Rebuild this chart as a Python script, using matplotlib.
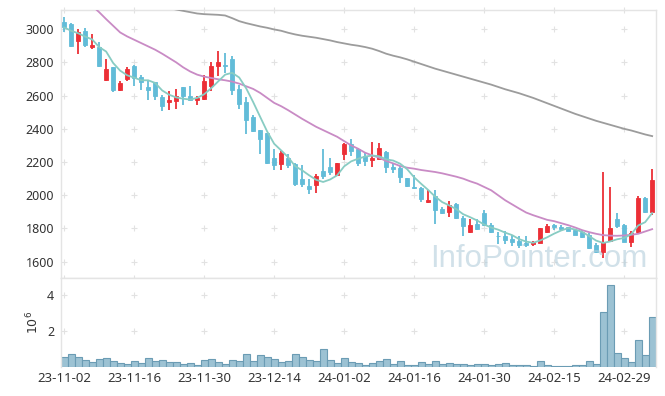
import numpy as np
import matplotlib.pyplot as plt

plt.rcParams['font.family'] = ['Noto Sans', 'DejaVu Sans']

# tick labels (every 10 trading days)
tick_labels = ['23-11-02', '23-11-16', '23-11-30', '23-12-14', '24-01-02',
               '24-01-16', '24-01-30', '24-02-15', '24-02-29']

# daily OHLC (KRW)
opens = [3042, 3032, 2926, 2990, 2890, 2892, 2696, 2772, 2632, 2700,
         2780, 2712, 2652, 2680, 2592, 2560, 2566, 2652, 2600, 2574,
         2580, 2656, 2776, 2782, 2822, 2640, 2564, 2468, 2392, 2372,
         2222, 2186, 2226, 2186, 2096, 2056, 2060, 2144, 2170, 2120,
         2246, 2306, 2276, 2236, 2214, 2220, 2262, 2172, 2166, 2102,
         2052, 2046, 1960, 1996, 1920, 1900, 1946, 1862, 1776, 1826,
         1892, 1820, 1754, 1756, 1736, 1722, 1712, 1704, 1712, 1780,
         1820, 1806, 1806, 1792, 1780, 1760, 1700, 1656, 1722, 1856,
         1820, 1716, 1776, 1986, 1900]
highs = [3072, 3036, 3000, 3006, 2972, 2922, 2820, 2772, 2686, 2772,
         2782, 2726, 2692, 2682, 2606, 2626, 2642, 2654, 2656, 2600,
         2726, 2800, 2866, 2858, 2840, 2666, 2592, 2484, 2394, 2374,
         2276, 2266, 2246, 2196, 2180, 2100, 2126, 2276, 2226, 2194,
         2316, 2336, 2286, 2256, 2320, 2312, 2264, 2192, 2176, 2106,
         2120, 2048, 2032, 2032, 1932, 1968, 1956, 1876, 1860, 1860,
         1912, 1836, 1780, 1786, 1760, 1752, 1752, 1724, 1804, 1826,
         1830, 1822, 1810, 1796, 1792, 1772, 1712, 2140, 2052, 1896,
         1826, 1786, 1996, 1992, 2156]
lows = [2982, 2890, 2850, 2890, 2880, 2772, 2686, 2620, 2628, 2686,
        2656, 2636, 2572, 2572, 2506, 2516, 2522, 2546, 2570, 2546,
        2572, 2626, 2716, 2736, 2606, 2520, 2366, 2380, 2246, 2190,
        2152, 2152, 2166, 2056, 2052, 2006, 2012, 2096, 2120, 2116,
        2212, 2236, 2176, 2176, 2172, 2216, 2132, 2136, 2076, 2052,
        2040, 1960, 1952, 1824, 1890, 1872, 1860, 1756, 1774, 1792,
        1816, 1774, 1704, 1706, 1696, 1680, 1686, 1696, 1710, 1772,
        1790, 1786, 1784, 1758, 1744, 1676, 1650, 1620, 1716, 1802,
        1716, 1686, 1770, 1896, 1880]
closes = [3010, 2896, 2982, 2902, 2902, 2776, 2762, 2636, 2676, 2760,
          2706, 2680, 2636, 2596, 2536, 2576, 2600, 2596, 2572, 2584,
          2690, 2780, 2800, 2778, 2636, 2552, 2452, 2386, 2336, 2192,
          2182, 2252, 2182, 2066, 2066, 2036, 2116, 2116, 2140, 2192,
          2306, 2266, 2196, 2206, 2222, 2286, 2172, 2160, 2112, 2056,
          2042, 1976, 1972, 1912, 1892, 1944, 1866, 1816, 1820, 1796,
          1820, 1776, 1752, 1732, 1720, 1700, 1700, 1716, 1802, 1816,
          1810, 1796, 1786, 1760, 1748, 1682, 1660, 1716, 1802, 1816,
          1720, 1772, 1982, 1900, 2092]

# moving averages (5, 20, 60 days)
ma5 = [3010, 2990, 2975, 2955, 2938, 2892, 2865, 2796, 2750, 2722,
       2708, 2692, 2692, 2676, 2631, 2605, 2589, 2581, 2576, 2586,
       2608, 2644, 2685, 2726, 2737, 2709, 2644, 2561, 2472, 2384,
       2310, 2270, 2229, 2175, 2150, 2120, 2093, 2080, 2095, 2120,
       2174, 2204, 2220, 2233, 2239, 2235, 2216, 2209, 2190, 2157,
       2108, 2069, 2032, 1992, 1959, 1939, 1917, 1886, 1868, 1848,
       1824, 1806, 1793, 1775, 1760, 1736, 1721, 1714, 1728, 1747,
       1769, 1788, 1802, 1794, 1780, 1754, 1727, 1713, 1722, 1735,
       1743, 1765, 1818, 1838, 1893]
ma20 = [None, None, None, None, 3140, 3102, 3060, 3020, 2980, 2956,
        2936, 2916, 2896, 2876, 2852, 2826, 2800, 2770, 2745, 2726,
        2714, 2706, 2698, 2692, 2684, 2672, 2656, 2640, 2616, 2586,
        2556, 2536, 2512, 2486, 2460, 2436, 2412, 2392, 2372, 2352,
        2326, 2300, 2280, 2256, 2240, 2226, 2206, 2192, 2176, 2166,
        2160, 2152, 2146, 2140, 2132, 2122, 2112, 2100, 2084, 2070,
        2050, 2030, 2000, 1970, 1945, 1920, 1896, 1880, 1866, 1852,
        1844, 1832, 1820, 1806, 1790, 1778, 1768, 1760, 1757, 1756,
        1758, 1762, 1768, 1782, 1796]
ma60 = [None] * 15 + [
    3126, 3118, 3110, 3102, 3094, 3090, 3088, 3086, 3082, 3066,
    3048, 3036, 3026, 3016, 3008, 2998, 2990, 2978, 2968, 2960,
    2954, 2948, 2940, 2932, 2922, 2914, 2906, 2900, 2892, 2882,
    2868, 2852, 2840, 2830, 2818, 2804, 2790, 2776, 2762, 2750,
    2738, 2726, 2714, 2702, 2690, 2678, 2666, 2652, 2638, 2626,
    2614, 2600, 2586, 2570, 2554, 2538, 2522, 2506, 2490, 2476,
    2462, 2448, 2436, 2424, 2412, 2400, 2390, 2378, 2366, 2356]

# volume (millions of shares)
volume = [0.54, 0.71, 0.54, 0.39, 0.28, 0.43, 0.49, 0.34, 0.21, 0.15,
          0.34, 0.22, 0.49, 0.34, 0.39, 0.28, 0.28, 0.15, 0.21, 0.09,
          0.39, 0.43, 0.28, 0.15, 0.39, 0.34, 0.71, 0.34, 0.65, 0.54,
          0.43, 0.28, 0.34, 0.71, 0.54, 0.39, 0.34, 0.99, 0.39, 0.21,
          0.49, 0.28, 0.21, 0.09, 0.21, 0.34, 0.43, 0.15, 0.34, 0.09,
          0.09, 0.28, 0.15, 0.34, 0.15, 0.21, 0.15, 0.15, 0.09, 0.15,
          0.15, 0.09, 0.15, 0.21, 0.09, 0.09, 0.09, 0.04, 0.34, 0.09,
          0.04, 0.04, 0.04, 0.09, 0.09, 0.34, 0.15, 3.06, 4.54, 0.77,
          0.49, 0.28, 1.49, 0.67, 2.78]

o = np.array(opens, float)
h = np.array(highs, float)
l = np.array(lows, float)
c = np.array(closes, float)
x = np.arange(len(c))

RED = '#ec2f36'
BLUE = '#62bcd8'
SPINE = '#e4e4e4'
TXT = '#333333'
MARK = '#e2e2e2'

fig = plt.figure(figsize=(6.65, 3.96), dpi=100)
ax = fig.add_axes([61 / 665, 1 - 278 / 396, 595 / 665, 268 / 396])
axv = fig.add_axes([61 / 665, 1 - 367 / 396, 595 / 665, 89 / 396], sharex=ax)

# candles
colors = np.where(c >= o, RED, BLUE)
ax.vlines(x, l, h, colors=colors, linewidth=1.3, zorder=2)
ax.bar(x, np.abs(c - o), bottom=np.minimum(o, c), width=0.58,
       color=colors, edgecolor=colors, linewidth=0.6, zorder=3)

# moving averages
ax.plot(x, np.array(ma60, dtype=float), color='#9c9c9c', lw=1.3, zorder=4)
ax.plot(x, np.array(ma20, dtype=float), color='#c98bc5', lw=1.3, zorder=4)
ax.plot(x, np.array(ma5, dtype=float), color='#88ccc3', lw=1.3, zorder=4)

ax.set_xlim(-0.45, 84.55)
ax.set_ylim(1502, 3115)
yt = list(range(1600, 3001, 200))
ax.set_yticks(yt)
ax.tick_params(axis='y', length=0, pad=5, labelsize=9, labelcolor=TXT)
ax.tick_params(axis='x', length=0, labelbottom=False)

# '+' grid marks
xt = list(range(0, 85, 10))
gx, gy = np.meshgrid(xt, yt + [1502, 3115])
ax.plot(gx.ravel(), gy.ravel(), '+', color=MARK, ms=4, mew=0.8,
        zorder=0, clip_on=False)

ax.text(0.62, 0.041, 'InfoPointer.com', transform=ax.transAxes,
        fontsize=22.5, family='Liberation Sans', color='#b3cddb', alpha=0.6,
        ha='left', va='baseline', zorder=5)

# volume
axv.bar(x, volume, width=1.0, color='#9cc2d3', edgecolor='#6b9cb4',
        linewidth=0.8, zorder=2)
axv.set_ylim(0, 4.95)
axv.set_yticks([2, 4])
axv.set_xticks(xt)
axv.set_xticklabels(tick_labels)
axv.tick_params(axis='both', length=0, labelsize=9, labelcolor=TXT)
axv.tick_params(axis='x', labelsize=9.5)
axv.tick_params(axis='y', pad=5)
axv.set_ylabel('$10^6$', fontsize=9, color=TXT, labelpad=4)
vx, vy = np.meshgrid(xt, [2, 4])
axv.plot(vx.ravel(), vy.ravel(), '+', color=MARK, ms=4, mew=0.8, zorder=0)

for a in (ax, axv):
    for s in a.spines.values():
        s.set_color(SPINE)
        s.set_linewidth(1.0)
axv.spines['bottom'].set_visible(False)

fig.savefig('out.png', dpi=100)
